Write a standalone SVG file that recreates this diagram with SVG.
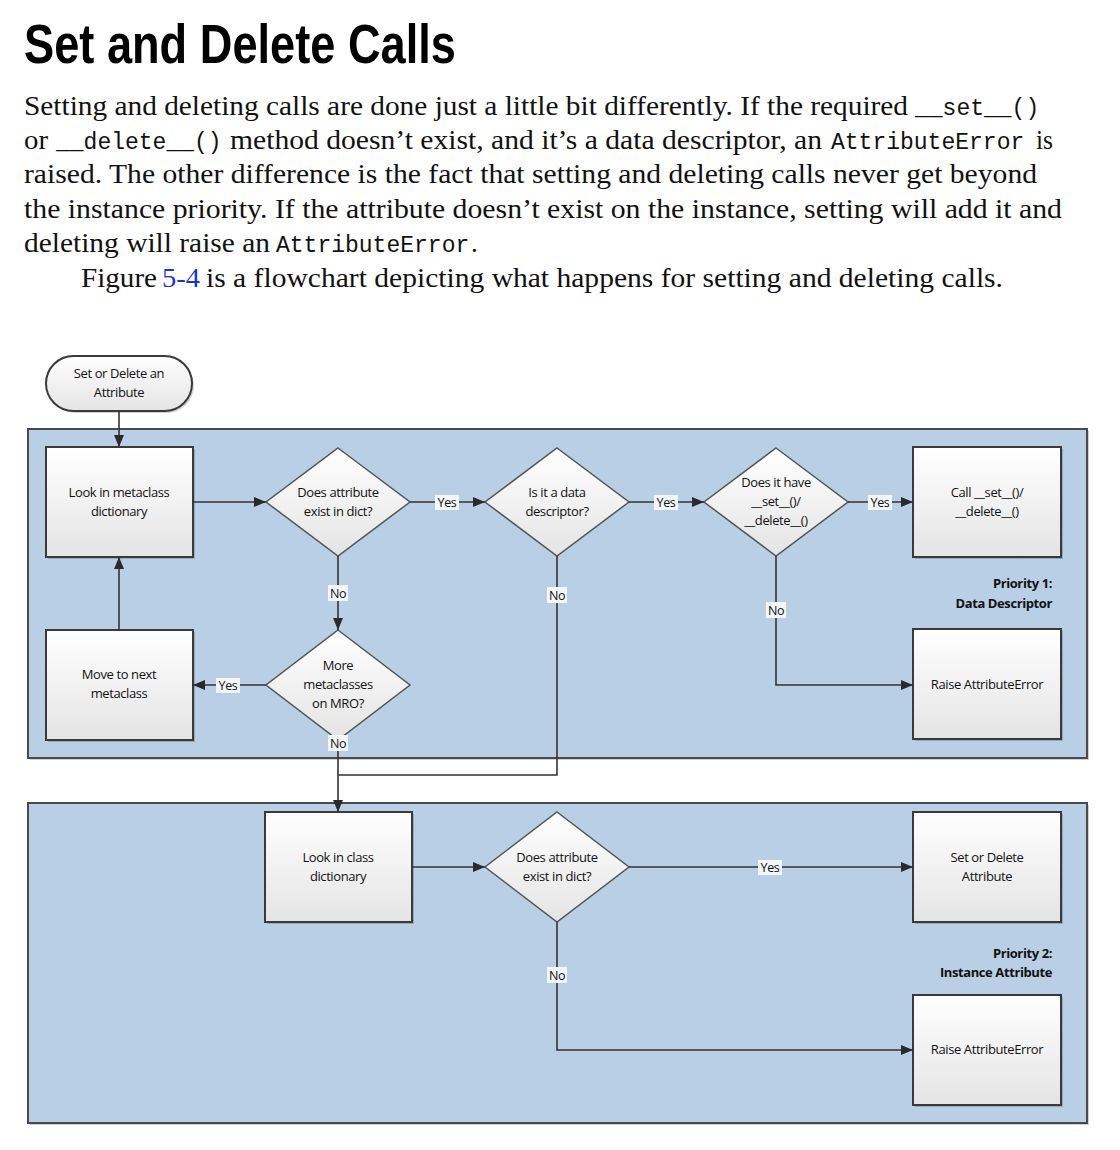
<svg xmlns="http://www.w3.org/2000/svg" width="1120" height="1150" viewBox="0 0 1120 1150">
<style>
.title{font-family:"Liberation Sans",Arial,sans-serif;font-weight:bold;font-size:56px;fill:#000}
.body{font-family:"Liberation Serif","Times New Roman",serif;font-size:27px;fill:#111}
.mono{font-family:"Liberation Mono","Courier New",monospace;font-size:23px;fill:#111}
.link{fill:#1a35c8}
.panel{fill:#b8cfe5;stroke:#4a4a4a;stroke-width:2}
.box{fill:url(#g);stroke:#3a3a3a;stroke-width:2}
.dia{fill:url(#g);stroke:#555;stroke-width:1.5}
.sh{fill:#000;opacity:0.18}
.t{font-family:"Open Sans","Noto Sans",sans-serif;font-size:13px;fill:#111;text-anchor:middle;letter-spacing:-0.4px}
.pr{font-family:"Open Sans","Noto Sans",sans-serif;font-size:13px;font-weight:bold;fill:#111;text-anchor:end;letter-spacing:-0.4px}
.lbl{font-family:"Open Sans","Noto Sans",sans-serif;font-size:12.5px;fill:#111;text-anchor:middle;letter-spacing:-0.4px}
.lb{fill:#f4f7fa}
.c{fill:none;stroke:#333;stroke-width:1.6}
</style>
<defs>
<linearGradient id="g" x1="0" y1="0" x2="0" y2="1">
<stop offset="0" stop-color="#ffffff"/>
<stop offset="1" stop-color="#e4e4e4"/>
</linearGradient>
<marker id="a" viewBox="0 0 12 10" refX="12" refY="5" markerWidth="12" markerHeight="10" markerUnits="userSpaceOnUse" orient="auto">
<path d="M0,0 L12,5 L0,10 z" fill="#2a2a2a"/>
</marker>
</defs>
<rect width="1120" height="1150" fill="#fff"/>

<g id="text">
<text class="title" x="24" y="63" textLength="432" lengthAdjust="spacingAndGlyphs">Set and Delete Calls</text>
<text class="body" x="24" y="115" textLength="884" lengthAdjust="spacingAndGlyphs">Setting and deleting calls are done just a little bit differently. If the required</text>
<text class="mono" x="915" y="115">__set__()</text>
<text class="body" x="24" y="149" textLength="24" lengthAdjust="spacingAndGlyphs">or</text>
<text class="mono" x="56" y="149">__delete__()</text>
<text class="body" x="230" y="149" textLength="592" lengthAdjust="spacingAndGlyphs">method doesn’t exist, and it’s a data descriptor, an</text>
<text class="mono" x="831" y="149">AttributeError</text>
<text class="body" x="1036" y="149" textLength="17" lengthAdjust="spacingAndGlyphs">is</text>
<text class="body" x="24" y="183" textLength="1013" lengthAdjust="spacingAndGlyphs">raised. The other difference is the fact that setting and deleting calls never get beyond</text>
<text class="body" x="24" y="218" textLength="1038" lengthAdjust="spacingAndGlyphs">the instance priority. If the attribute doesn’t exist on the instance, setting will add it and</text>
<text class="body" x="24" y="252" textLength="246" lengthAdjust="spacingAndGlyphs">deleting will raise an</text>
<text class="mono" x="276" y="252">AttributeError</text>
<text class="body" x="471" y="252">.</text>
<text class="body" x="81" y="287" textLength="76" lengthAdjust="spacingAndGlyphs">Figure</text>
<text class="body link" x="162" y="287" textLength="38" lengthAdjust="spacingAndGlyphs">5-4</text>
<text class="body" x="206" y="287" textLength="797" lengthAdjust="spacingAndGlyphs">is a flowchart depicting what happens for setting and deleting calls.</text>
</g>

<g id="panel1">
<rect x="30" y="431" width="1059" height="329" class="sh"/>
<rect x="28" y="429" width="1059" height="329" class="panel"/>
<text class="pr" x="1052" y="588">Priority 1:</text>
<text class="pr" x="1052" y="608">Data Descriptor</text>
</g>
<g id="panel2">
<rect x="30" y="805" width="1059" height="320" class="sh"/>
<rect x="28" y="803" width="1059" height="320" class="panel"/>
<text class="pr" x="1052" y="958">Priority 2:</text>
<text class="pr" x="1052" y="977">Instance Attribute</text>
</g>

<g id="start">
<rect x="48" y="358" width="146" height="55" rx="27.5" class="sh"/>
<rect x="46" y="356" width="146" height="55" rx="27.5" class="box"/>
<text class="t" x="119" y="378">Set or Delete an</text>
<text class="t" x="119" y="397">Attribute</text>
</g>

<g id="lookMeta">
<rect x="48" y="449" width="147" height="110" class="sh"/>
<rect x="46" y="447" width="147" height="110" class="box"/>
<text class="t" x="119" y="497">Look in metaclass</text>
<text class="t" x="119" y="516">dictionary</text>
</g>

<g id="existMeta">
<polygon points="338,448 410,502 338,556 266,502" class="dia"/>
<text class="t" x="338" y="497">Does attribute</text>
<text class="t" x="338" y="516">exist in dict?</text>
</g>

<g id="isData">
<polygon points="557,448 629,502 557,556 485,502" class="dia"/>
<text class="t" x="557" y="497">Is it a data</text>
<text class="t" x="557" y="516">descriptor?</text>
</g>

<g id="hasSet">
<polygon points="776,448 848,502 776,556 704,502" class="dia"/>
<text class="t" x="776" y="487">Does it have</text>
<text class="t" x="776" y="506">__set__()/</text>
<text class="t" x="776" y="525">__delete__()</text>
</g>

<g id="callSet">
<rect x="915" y="449" width="148" height="110" class="sh"/>
<rect x="913" y="447" width="148" height="110" class="box"/>
<text class="t" x="987" y="497">Call __set__()/</text>
<text class="t" x="987" y="516">__delete__()</text>
</g>

<g id="raise1">
<rect x="915" y="631" width="148" height="110" class="sh"/>
<rect x="913" y="629" width="148" height="110" class="box"/>
<text class="t" x="987" y="689">Raise AttributeError</text>
</g>

<g id="moveNext">
<rect x="48" y="632" width="147" height="110" class="sh"/>
<rect x="46" y="630" width="147" height="110" class="box"/>
<text class="t" x="119" y="679">Move to next</text>
<text class="t" x="119" y="698">metaclass</text>
</g>

<g id="moreMeta">
<polygon points="338,630 410,685 338,740 266,685" class="dia"/>
<text class="t" x="338" y="670">More</text>
<text class="t" x="338" y="689">metaclasses</text>
<text class="t" x="338" y="708">on MRO?</text>
</g>

<g id="lookClass">
<rect x="267" y="814" width="147" height="110" class="sh"/>
<rect x="265" y="812" width="147" height="110" class="box"/>
<text class="t" x="338" y="862">Look in class</text>
<text class="t" x="338" y="881">dictionary</text>
</g>

<g id="existClass">
<polygon points="557,812 629,867 557,922 485,867" class="dia"/>
<text class="t" x="557" y="862">Does attribute</text>
<text class="t" x="557" y="881">exist in dict?</text>
</g>

<g id="setDelete">
<rect x="915" y="814" width="148" height="110" class="sh"/>
<rect x="913" y="812" width="148" height="110" class="box"/>
<text class="t" x="987" y="862">Set or Delete</text>
<text class="t" x="987" y="881">Attribute</text>
</g>

<g id="raise2">
<rect x="915" y="997" width="148" height="110" class="sh"/>
<rect x="913" y="995" width="148" height="110" class="box"/>
<text class="t" x="987" y="1054">Raise AttributeError</text>
</g>

<g id="connectors">
<path class="c" d="M119,411 V447" marker-end="url(#a)"/>
<path class="c" d="M193,502 H266" marker-end="url(#a)"/>
<path class="c" d="M410,502 H485" marker-end="url(#a)"/>
<path class="c" d="M629,502 H704" marker-end="url(#a)"/>
<path class="c" d="M848,502 H913" marker-end="url(#a)"/>
<path class="c" d="M776,556 V685 H913" marker-end="url(#a)"/>
<path class="c" d="M338,556 V630" marker-end="url(#a)"/>
<path class="c" d="M266,685 H193" marker-end="url(#a)"/>
<path class="c" d="M119,630 V557" marker-end="url(#a)"/>
<path class="c" d="M338,740 V812" marker-end="url(#a)"/>
<path class="c" d="M557,556 V775 H338"/>
<path class="c" d="M412,867 H485" marker-end="url(#a)"/>
<path class="c" d="M629,867 H913" marker-end="url(#a)"/>
<path class="c" d="M557,922 V1050 H913" marker-end="url(#a)"/>

<rect class="lb" x="435" y="495" width="24" height="15"/>
<text class="lbl" x="447" y="507">Yes</text>
<rect class="lb" x="654" y="495" width="24" height="15"/>
<text class="lbl" x="666" y="507">Yes</text>
<rect class="lb" x="868" y="495" width="24" height="15"/>
<text class="lbl" x="880" y="507">Yes</text>
<rect class="lb" x="216" y="678" width="24" height="15"/>
<text class="lbl" x="228" y="690">Yes</text>
<rect class="lb" x="758" y="860" width="24" height="15"/>
<text class="lbl" x="770" y="872">Yes</text>
<rect class="lb" x="328" y="585" width="20" height="16"/>
<text class="lbl" x="338" y="598">No</text>
<rect class="lb" x="547" y="587" width="20" height="16"/>
<text class="lbl" x="557" y="600">No</text>
<rect class="lb" x="766" y="602" width="20" height="16"/>
<text class="lbl" x="776" y="615">No</text>
<rect class="lb" x="328" y="735" width="20" height="16"/>
<text class="lbl" x="338" y="748">No</text>
<rect class="lb" x="547" y="967" width="20" height="16"/>
<text class="lbl" x="557" y="980">No</text>
</g>
</svg>
